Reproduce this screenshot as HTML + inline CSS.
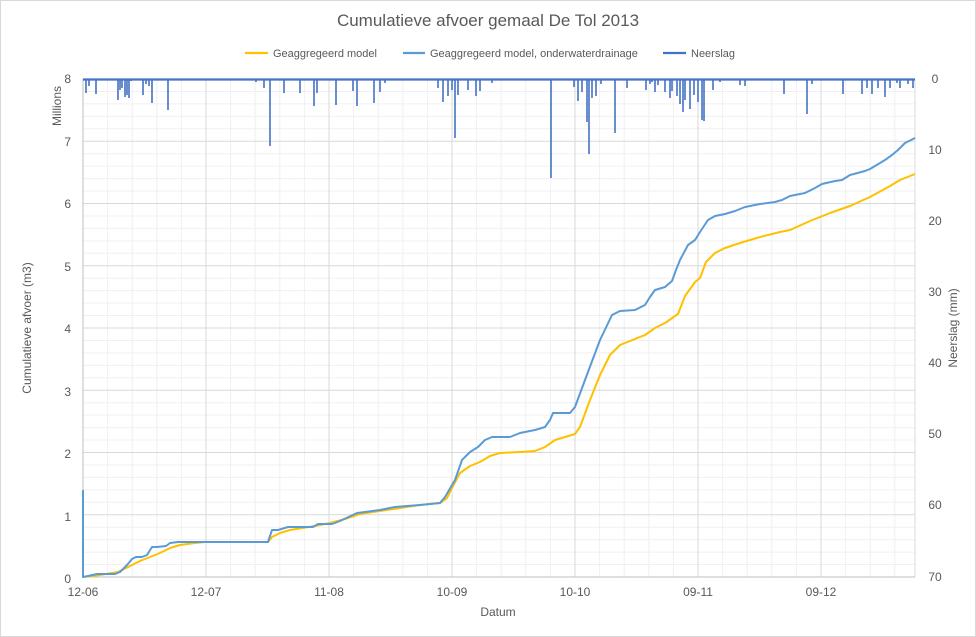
<!DOCTYPE html>
<html><head><meta charset="utf-8"><style>
html,body{margin:0;padding:0;background:#fff;}
svg{display:block;font-family:"Liberation Sans",sans-serif;}
</style></head><body>
<svg width="976" height="637" viewBox="0 0 976 637" xmlns="http://www.w3.org/2000/svg">
<rect x="0.5" y="0.5" width="975" height="636" fill="#fff" stroke="#d9d9d9"/>
<g stroke="#f0f0f0" stroke-width="1">
<path id="minh" d=""/>
</g>
<g id="grid"></g>
<text x="488" y="26" text-anchor="middle" font-size="17" fill="#595959">Cumulatieve afvoer gemaal De Tol 2013</text>
<g font-size="11" fill="#595959">
<line x1="245" y1="53" x2="268" y2="53" stroke="#ffc000" stroke-width="2.2"/><text x="273" y="57">Geaggregeerd model</text>
<line x1="403" y1="53" x2="425" y2="53" stroke="#5b9bd5" stroke-width="2.2"/><text x="430" y="57">Geaggregeerd model, onderwaterdrainage</text>
<line x1="663" y1="53" x2="686" y2="53" stroke="#4472c4" stroke-width="2.2"/><text x="691" y="57">Neerslag</text>
</g>
<g font-size="12" fill="#595959" text-anchor="end">
<text x="71" y="83">8</text><text x="71" y="146">7</text><text x="71" y="208">6</text><text x="71" y="271">5</text><text x="71" y="333">4</text><text x="71" y="396">3</text><text x="71" y="458">2</text><text x="71" y="521">1</text><text x="71" y="583">0</text>
</g>
<g font-size="12" fill="#595959" text-anchor="middle">
<text x="935" y="83">0</text><text x="935" y="154">10</text><text x="935" y="225">20</text><text x="935" y="296">30</text><text x="935" y="367">40</text><text x="935" y="438">50</text><text x="935" y="509">60</text><text x="935" y="581">70</text>
<text x="83" y="596">12-06</text><text x="206" y="596">12-07</text><text x="329" y="596">11-08</text><text x="452" y="596">10-09</text><text x="575" y="596">10-10</text><text x="698" y="596">09-11</text><text x="821" y="596">09-12</text>
<text x="498" y="616">Datum</text>
</g>
<text transform="translate(61,106) rotate(-90)" font-size="12" fill="#595959" text-anchor="middle">Millions</text>
<text transform="translate(31,328) rotate(-90)" font-size="12" fill="#595959" text-anchor="middle">Cumulatieve afvoer (m3)</text>
<text transform="translate(957,328) rotate(-90)" font-size="12" fill="#595959" text-anchor="middle">Neerslag (mm)</text>
<line x1="83" y1="79" x2="83" y2="577" stroke="#bfbfbf"/>
<line x1="83" y1="577" x2="915" y2="577" stroke="#bfbfbf"/>
<polyline fill="none" stroke="#ffc000" stroke-width="2" stroke-linejoin="round" points="83,577 100,575 118,572 128,567 140,561 150,557 160,553 170,548 180,545 195,543 205,542 268,542 272,537 280,533 290,530 315,526 330,523 345,519 360,514 380,511 400,508 420,505 440,503 447,498 452,488 460,473 470,466 480,462 490,456 500,453 520,452 535,451 545,447 555,440 565,437 575,434 580,427 590,400 600,375 610,355 620,345 630,341 645,335 655,328 665,323 678,314 685,296 695,282 700,278 706,262 715,253 725,248 740,243 760,237 780,232 790,230 810,221 830,213 850,206 870,197 890,186 900,180 915,174"/>
<polyline fill="none" stroke="#5b9bd5" stroke-width="2" stroke-linejoin="round" points="83,490 83,577 88,576 97,574 115,574 120,572 127,565 132,559 136,557 142,557 147,555 152,547 157,547 166,546 170,543 178,542 205,542 268,542 272,530 278,530 288,527 313,527 318,524 332,524 340,521 357,513 365,512 380,510 395,507 420,505 440,503 445,497 455,480 462,460 470,452 478,447 485,440 492,437 510,437 520,433 535,430 545,427 550,420 553,413 570,413 575,407 585,380 600,340 612,315 620,311 635,310 645,305 650,297 655,290 665,287 672,281 676,270 680,260 688,245 695,240 700,232 708,220 715,216 725,214 735,211 745,207 760,204 775,202 782,200 790,196 805,193 815,188 822,184 835,181 842,180 850,175 865,171 870,169 885,160 892,155 898,150 905,143 915,138"/>
<g id="rain" stroke="#4472c4" stroke-width="1.6"></g>
<line x1="83" y1="79.5" x2="915" y2="79.5" stroke="#4472c4" stroke-width="2.2"/>
<script>
var ns="http://www.w3.org/2000/svg",g=document.getElementById("grid"),svg=g.parentNode;
function L(p,x1,y1,x2,y2,c){var l=document.createElementNS(ns,"line");l.setAttribute("x1",x1);l.setAttribute("y1",y1);l.setAttribute("x2",x2);l.setAttribute("y2",y2);l.setAttribute("stroke",c);p.appendChild(l);}
for(var i=1;i<40;i++){var y=577-i*12.45;if(i%5)L(g,83,y,915,y,"#f0f0f0");}
for(var i=1;i<34;i++){var x=83+i*24.6;if(x<915&&i%5)L(g,x,79,x,577,"#f0f0f0");}
for(var i=1;i<8;i++){var y=577-i*62.25;L(g,83,y,915,y,"#d9d9d9");}
for(var i=1;i<7;i++){var x=83+i*123;L(g,x,79,x,577,"#d9d9d9");}
L(g,915,79,915,577,"#d9d9d9");
var r=document.getElementById("rain");
var d=[[86,93],[89,86],[96,94],[103,80],[118,100],[120,90],[122,88],[125,97],[127,95],[129,98],[131,81],[143,95],[146,84],[149,86],[152,103],[168,110],[256,82],[264,88],[270,146],[284,93],[300,93],[314,106],[317,93],[336,105],[353,91],[357,106],[374,103],[380,92],[385,83],[438,88],[443,102],[448,96],[452,90],[455,138],[458,95],[468,90],[476,96],[480,91],[492,83],[551,178],[574,87],[578,101],[582,92],[587,122],[589,154],[592,98],[596,96],[601,84],[615,133],[627,88],[646,90],[650,84],[652,82],[655,92],[658,85],[665,92],[670,98],[672,91],[677,96],[680,104],[683,112],[685,100],[690,109],[694,95],[698,102],[702,120],[704,121],[713,90],[720,82],[740,85],[745,86],[784,94],[807,114],[812,84],[843,94],[862,94],[867,88],[872,94],[878,88],[885,97],[890,88],[897,83],[900,88],[908,84],[913,88]];
d.forEach(function(p){L(r,p[0],79,p[0],p[1],"#4472c4");});
</script>
</svg>
</body></html>
